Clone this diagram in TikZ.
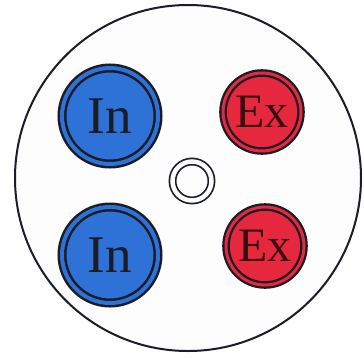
\documentclass[tikz,border=0pt]{standalone}
\usepackage{fontspec}
\setmainfont{Liberation Serif}
\usetikzlibrary{positioning}
\definecolor{portink}{HTML}{1A1C26}
\definecolor{inblue}{HTML}{2E72D8}
\definecolor{exred}{HTML}{E6283F}
\definecolor{exink}{HTML}{3A0C12}
\definecolor{paper}{HTML}{FDFDFE}

\begin{document}
\begin{tikzpicture}[x=1pt,y=-1pt,
  every node/.style={inner sep=0pt,outer sep=0pt},
  plate/.style={circle,draw=portink,line width=2pt,fill=paper,minimum size=346pt},
  inport/.style={circle,fill=inblue,draw=portink,line width=2.5pt,double=inblue,
    double distance=4pt,minimum size=96pt,text=portink,font=\fontsize{53}{53}\selectfont},
  export/.style={circle,fill=exred,draw=portink,line width=2.3pt,double=exred,
    double distance=3pt,minimum size=78pt,text=exink,font=\fontsize{48}{48}\selectfont},
  pivot/.style={circle,draw=portink,line width=1.7pt,double=paper,
    double distance=4.5pt,minimum size=39pt}]
\useasboundingbox[fill=white] (0,0) rectangle (364,357);
% outer plate
\node[plate] (base) at (188,178) {};
% intake ports (left)
\node[inport] (inA) at (110,116) {In};
\node[inport] (inB) at (110,255) {In};
% exhaust ports (right)
\node[export] (exA) at (262,112) {Ex};
\node[export] (exB) at (265,246) {Ex};
% centre ring
\node[pivot] (hub) at (192,181) {};
\end{tikzpicture}
\end{document}
